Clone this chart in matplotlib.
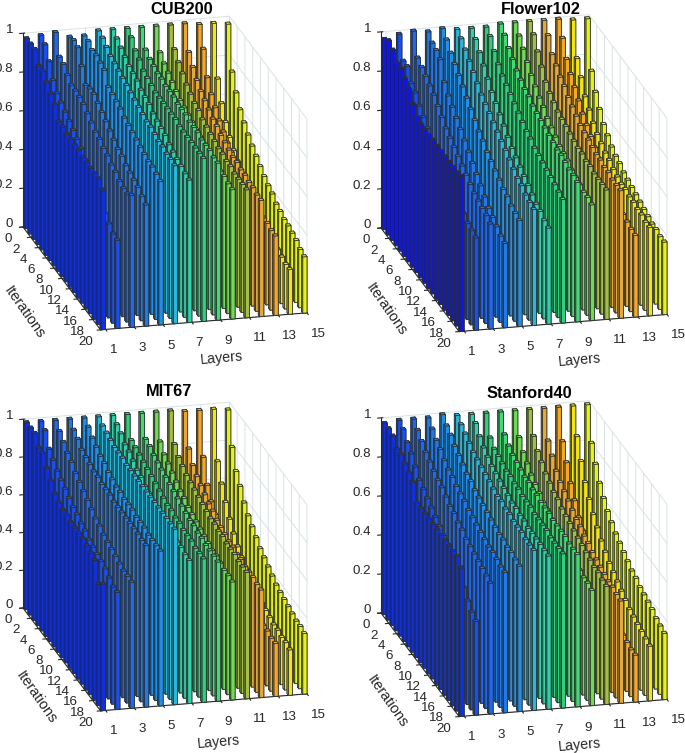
import matplotlib
matplotlib.use("Agg")
import matplotlib.pyplot as plt
import matplotlib.colors as mcolors
import numpy as np
from mpl_toolkits.mplot3d import proj3d

plt.rcParams["font.family"] = ["Liberation Sans", "DejaVu Sans"]
plt.rcParams["grid.color"] = "#d9e3e3"
plt.rcParams["grid.linewidth"] = 0.7
plt.rcParams["axes.edgecolor"] = "#262626"

W, H = 685, 753

layers = np.arange(1, 16)
iterations = np.arange(1, 21)

layer_colors = ["#1030e0", "#1850f4", "#1f68f4", "#1f78ec", "#2090ec",
                "#28b8dc", "#30d0a8", "#30d078", "#40dc70", "#70dc50",
                "#a4c040", "#e8a838", "#f8a820", "#f4e410", "#e8f410"]

titles = ["CUB200", "Flower102", "MIT67", "Stanford40"]

# one row per layer, one value per iteration
cub200 = [
    [.98, .98, .98, .92, .92, .89, .86, .83, .77, .77, .76, .76, .76, .76, .75, .75, .75, .75, .75, .72],
    [.99, .97, .91, .84, .80, .78, .76, .74, .72, .70, .68, .65, .62, .60, .57, .54, .51, .485, .46, .455],
    [1.0, .90, .89, .86, .835, .835, .83, .82, .80, .78, .76, .75, .73, .72, .70, .69, .67, .66, .66, .68],
    [.97, .98, .97, .90, .83, .84, .84, .82, .80, .78, .76, .74, .72, .71, .69, .68, .67, .66, .64, .625],
    [.97, .97, .95, .95, .94, .93, .87, .86, .85, .84, .82, .81, .80, .79, .78, .77, .76, .76, .75, .74],
    [.99, .98, .96, .94, .93, .92, .91, .90, .89, .88, .87, .86, .85, .85, .84, .83, .83, .82, .82, .815],
    [.99, .97, .95, .93, .91, .90, .89, .87, .86, .85, .83, .82, .81, .80, .78, .77, .76, .75, .74, .735],
    [.99, .97, .93, .91, .88, .87, .86, .85, .85, .85, .85, .85, .85, .84, .84, .84, .84, .84, .84, .84],
    [.99, .90, .88, .87, .86, .86, .85, .85, .85, .84, .84, .84, .83, .83, .83, .82, .82, .82, .81, .81],
    [.99, .88, .85, .83, .81, .79, .77, .76, .75, .74, .73, .72, .71, .70, .70, .69, .68, .68, .67, .667],
    [.99, .89, .85, .82, .79, .77, .75, .74, .72, .71, .70, .69, .68, .68, .67, .67, .66, .66, .66, .66],
    [.99, .87, .82, .78, .75, .73, .71, .69, .68, .66, .65, .64, .63, .63, .62, .62, .61, .61, .60, .60],
    [.98, .88, .76, .70, .66, .62, .59, .56, .54, .52, .50, .48, .46, .45, .44, .43, .42, .42, .41, .41],
    [.98, .72, .62, .55, .50, .46, .43, .40, .38, .35, .33, .31, .30, .28, .27, .26, .25, .24, .23, .23],
    [.97, .75, .67, .61, .57, .535, .505, .48, .455, .43, .41, .395, .37, .36, .345, .34, .33, .32, .30, .29],
]

flower102 = [
    [.97, .99, .97, .93, .93, .905, .88, .83, .79, .78, .78, .78, .78, .78, .78, .78, .78, .78, .78, .79],
    [.99, .88, .88, .82, .80, .76, .73, .70, .67, .65, .63, .61, .59, .57, .55, .53, .51, .49, .48, .47],
    [1.0, .89, .87, .85, .83, .81, .78, .75, .72, .70, .68, .66, .64, .62, .60, .58, .57, .56, .55, .535],
    [.99, .96, .95, .93, .84, .80, .77, .74, .71, .68, .65, .62, .59, .56, .53, .50, .48, .46, .44, .43],
    [1.0, .97, .93, .90, .87, .84, .81, .78, .75, .72, .70, .67, .65, .63, .61, .59, .58, .56, .55, .54],
    [.99, .97, .94, .91, .88, .85, .82, .80, .78, .76, .74, .72, .70, .68, .66, .64, .63, .61, .60, .59],
    [.99, .96, .92, .88, .84, .80, .77, .74, .71, .68, .65, .63, .61, .59, .57, .55, .53, .52, .50, .49],
    [.99, .97, .92, .88, .85, .83, .81, .79, .77, .75, .73, .72, .70, .69, .68, .67, .66, .65, .64, .63],
    [1.0, .97, .93, .90, .87, .85, .83, .82, .80, .79, .78, .77, .76, .75, .74, .74, .73, .72, .72, .71],
    [1.0, .96, .92, .88, .84, .81, .78, .76, .73, .71, .69, .67, .66, .65, .63, .62, .61, .60, .60, .59],
    [1.0, .96, .90, .85, .80, .77, .75, .73, .72, .71, .70, .69, .68, .68, .67, .67, .66, .66, .66, .66],
    [1.0, .95, .88, .85, .82, .80, .77, .75, .73, .71, .70, .69, .68, .67, .67, .66, .66, .65, .65, .65],
    [1.0, .93, .85, .80, .76, .72, .68, .65, .62, .59, .56, .53, .50, .48, .46, .45, .44, .43, .42, .415],
    [.99, .82, .75, .68, .64, .60, .57, .55, .53, .52, .50, .49, .48, .48, .47, .47, .46, .46, .45, .45],
    [.99, .75, .67, .61, .56, .53, .50, .48, .47, .45, .44, .43, .42, .41, .40, .39, .38, .38, .37, .37],
]

mit67 = [
    [.99, .99, .99, .94, .94, .89, .85, .81, .79, .78, .78, .77, .77, .77, .77, .76, .75, .74, .64, .67],
    [.99, .97, .90, .87, .84, .82, .80, .78, .76, .75, .73, .72, .70, .69, .68, .67, .66, .64, .62, .62],
    [.99, .96, .93, .90, .88, .85, .83, .81, .79, .77, .75, .74, .72, .71, .70, .69, .68, .67, .67, .667],
    [.99, .96, .94, .91, .90, .89, .88, .88, .87, .87, .87, .86, .86, .86, .86, .86, .86, .86, .855, .855],
    [.99, .97, .94, .92, .90, .89, .87, .86, .85, .85, .84, .84, .84, .83, .83, .83, .82, .82, .82, .82],
    [.99, .97, .96, .95, .94, .94, .94, .93, .93, .93, .93, .93, .93, .93, .93, .93, .93, .93, .93, .93],
    [.99, .97, .95, .92, .91, .89, .87, .86, .84, .83, .82, .81, .80, .79, .78, .78, .77, .77, .76, .757],
    [.99, .88, .87, .86, .85, .84, .83, .82, .81, .80, .79, .79, .78, .78, .77, .77, .77, .76, .76, .76],
    [.99, .88, .87, .85, .84, .83, .82, .81, .80, .79, .78, .77, .76, .76, .75, .75, .74, .74, .74, .737],
    [.99, .86, .82, .80, .78, .76, .74, .73, .71, .70, .69, .68, .67, .66, .65, .65, .64, .63, .63, .625],
    [.99, .84, .80, .78, .76, .75, .74, .73, .72, .71, .70, .70, .69, .69, .68, .68, .68, .67, .67, .67],
    [.98, .81, .75, .72, .70, .68, .66, .65, .63, .62, .61, .60, .60, .59, .59, .58, .58, .58, .57, .57],
    [.98, .76, .64, .58, .54, .50, .46, .43, .40, .38, .36, .34, .33, .32, .31, .30, .29, .29, .28, .28],
    [.98, .73, .64, .57, .51, .46, .42, .39, .36, .34, .32, .31, .29, .28, .27, .26, .26, .25, .25, .24],
    [.97, .80, .70, .65, .59, .55, .52, .49, .46, .44, .42, .40, .38, .37, .36, .35, .34, .33, .33, .32],
]

stanford40 = [
    [.98, .98, .97, .93, .93, .91, .89, .87, .79, .79, .79, .79, .79, .79, .79, .79, .79, .79, .79, .76],
    [.99, .97, .93, .90, .86, .82, .80, .78, .76, .74, .72, .70, .68, .65, .63, .60, .57, .53, .50, .48],
    [.99, .96, .93, .90, .88, .86, .84, .83, .81, .79, .78, .76, .75, .73, .72, .71, .70, .69, .68, .67],
    [.99, .96, .93, .91, .88, .86, .85, .83, .82, .81, .79, .78, .77, .76, .75, .74, .74, .73, .72, .718],
    [1.0, .97, .95, .92, .90, .88, .86, .85, .83, .82, .81, .80, .79, .78, .77, .77, .76, .76, .75, .745],
    [.99, .97, .95, .93, .91, .90, .89, .88, .87, .86, .85, .85, .84, .84, .83, .83, .83, .82, .82, .82],
    [.99, .97, .93, .90, .88, .86, .85, .84, .83, .82, .81, .81, .80, .80, .79, .79, .79, .79, .785, .785],
    [.99, .89, .86, .85, .84, .83, .83, .82, .82, .81, .81, .81, .80, .80, .80, .80, .79, .79, .79, .79],
    [.99, .90, .87, .85, .84, .83, .82, .82, .81, .81, .80, .80, .80, .79, .79, .79, .79, .78, .78, .78],
    [.99, .88, .83, .80, .77, .75, .73, .71, .70, .68, .67, .66, .65, .64, .63, .62, .61, .60, .60, .59],
    [.99, .88, .83, .80, .77, .75, .73, .72, .70, .69, .68, .67, .66, .65, .64, .63, .62, .62, .61, .605],
    [.99, .85, .80, .75, .72, .70, .68, .66, .64, .63, .61, .60, .58, .57, .56, .55, .54, .54, .53, .524],
    [.99, .84, .76, .68, .62, .56, .52, .48, .44, .41, .38, .35, .33, .31, .29, .27, .26, .25, .24, .24],
    [.99, .86, .76, .68, .62, .57, .53, .49, .46, .43, .41, .39, .37, .35, .33, .32, .31, .30, .29, .28],
    [.99, .82, .74, .67, .62, .58, .55, .52, .50, .48, .46, .44, .43, .41, .40, .39, .38, .36, .35, .34],
]

heights = [cub200, flower102, mit67, stanford40]

# pixel layout of each panel, measured on the picture
origin_px = [(23, 227), (381, 228), (23, 608), (381, 613)]
corner_px = [(307, 313), (667, 313), (307, 697), (667, 699)]
zheight_px = [194, 195, 189, 194]
title_px = [(182, 9), (541, 9), (169, 392), (529, 394)]
layers_px = [(222, 358), (580, 360), (219, 742), (580, 745)]
iters_px = [(24, 312), (386, 309), (36, 697), (387, 701)]

XMIN, XMAX = 0.65, 15
ELEV, AZIM = 19.3, -104
BAR_W, BAR_D = 0.29, 0.36
ROW_STEP = (20 - BAR_D) / 19


def place_axes(ax, p0, p1):
    # scale and shift the square axes so two 3D corners land on given pixels
    for _ in range(3):
        ax.apply_aspect()
        M = ax.get_proj()
        a = proj3d.proj_transform(XMIN, 0, 0, M)[:2]
        b = proj3d.proj_transform(XMAX, 20, 0, M)[:2]
        pa = ax.transData.transform(a)
        pb = ax.transData.transform(b)
        pos = ax.get_position(original=True)
        f = (p1[0] - p0[0]) / (pb[0] - pa[0])
        size = pos.width * f
        # pixel position of the anchor after the scaling, about the axes centre
        cx = (pos.x0 + pos.width / 2) * W
        cy = (pos.y0 + pos.height / 2) * H
        ax_new = (cx + (pa[0] - cx) * f, cy + (pa[1] - cy) * f)
        dx = (p0[0] - ax_new[0]) / W
        dy = ((H - p0[1]) - ax_new[1]) / H
        ncx = pos.x0 + pos.width / 2 + dx
        ncy = pos.y0 + pos.height / 2 + dy
        hgt = size * W / H
        ax.set_position([ncx - size / 2, ncy - hgt / 2, size, hgt])


fig = plt.figure(figsize=(W / 100, H / 100), dpi=100)

for p in range(4):
    ax = fig.add_axes([0.1 + 0.5 * (p % 2), 0.55 - 0.5 * (p // 2), 0.4, 0.4 * W / H],
                      projection="3d", proj_type="ortho", computed_zorder=False)
    ax.view_init(elev=ELEV, azim=AZIM)
    ax.set_box_aspect((213, 321, zheight_px[p] / np.cos(np.radians(ELEV))))
    ax.set_xlim(XMIN, XMAX, view_margin=0)
    ax.set_ylim(20, 0, view_margin=0)
    ax.set_zlim(0, 1, view_margin=0)
    ax.patch.set_alpha(0)

    ax.set_xticks(np.arange(1, 16, 2))
    ax.set_yticks(np.arange(0, 21, 2))
    ax.set_zticks([0, 0.2, 0.4, 0.6, 0.8, 1])
    ax.set_zticklabels(["0", "0.2", "0.4", "0.6", "0.8", "1"])
    ax.tick_params(labelsize=9.6, colors="#262626")
    ax.tick_params(axis="x", pad=0)
    ax.tick_params(axis="y", pad=3.5)
    ax.tick_params(axis="z", pad=-2.6)
    plt.setp(ax.get_xticklabels(), ha="left")
    plt.setp(ax.get_yticklabels(), ha="center", va="baseline")
    plt.setp(ax.get_zticklabels(), ha="right", va="center")
    for axis in (ax.xaxis, ax.yaxis, ax.zaxis):
        axis.set_pane_color((1, 1, 1, 0))
        axis.pane.set_edgecolor("#d9e3e3")
        axis.line.set_color("#262626")
        axis.line.set_linewidth(0.8)

    vals = heights[p]
    order = 0
    # painter's order: back rows first, right columns first
    for j in range(len(iterations)):
        for i in range(len(layers) - 1, -1, -1):
            base = mcolors.to_rgb(layer_colors[i])
            if i == 0 and p == 1:
                base = mcolors.to_rgb("#1015e0")
            side = tuple(c * 0.78 for c in base)
            top = tuple(min(1, c * 1.05) for c in base)
            face = [base, top, base, base, side, side]
            order += 1
            ax.bar3d(layers[i] - BAR_W, j * ROW_STEP, 0, BAR_W, BAR_D, vals[i][j],
                     color=face, edgecolor="#2a3030", linewidth=0.55, shade=False,
                     zorder=order)

    place_axes(ax, origin_px[p], corner_px[p])

    fig.text(title_px[p][0] / W, 1 - title_px[p][1] / H, titles[p], fontsize=11.8,
             fontweight="bold", ha="center", va="center", color="black")
    fig.text(layers_px[p][0] / W, 1 - layers_px[p][1] / H, "Layers", fontsize=10.3,
             ha="center", va="center", rotation=5, color="#262626")
    fig.text(iters_px[p][0] / W, 1 - iters_px[p][1] / H, "Iterations", fontsize=10.5,
             ha="center", va="center", rotation=-55, color="#262626")

fig.savefig("out.png", dpi=100)
